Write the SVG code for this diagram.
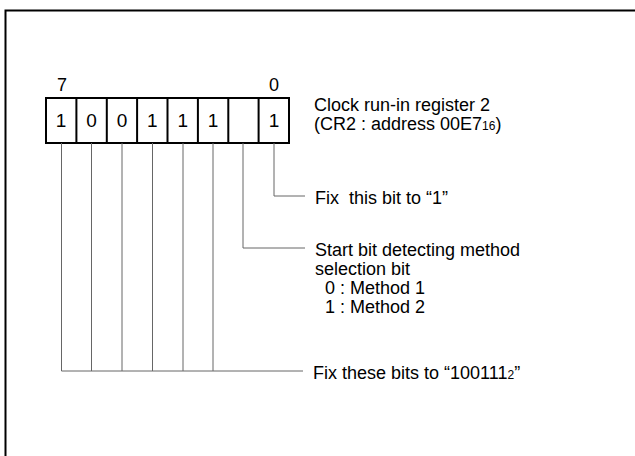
<svg xmlns="http://www.w3.org/2000/svg" width="635" height="456" viewBox="0 0 635 456">
<style>
text{font-family:"Liberation Sans",Arial,sans-serif;font-size:18px;fill:#000}
.dig{font-size:19px;text-anchor:middle}
.cell{fill:#fff;stroke:#000;stroke-width:2}
.ln{fill:none;stroke:#666;stroke-width:1}
.mid{text-anchor:middle}
</style>
<rect width="635" height="456" fill="#fff"/>
<path d="M5.5,460 V10.5 H640" fill="none" stroke="#000" stroke-width="2"/>
<g id="register">
<rect class="cell" x="46" y="98" width="243" height="45"/>
<path d="M76.4,98V143M106.8,98V143M137.1,98V143M167.5,98V143M197.9,98V143M228.3,98V143M258.6,98V143" stroke="#000" stroke-width="2"/>
<text class="dig" x="61" y="127">1</text>
<text class="dig" x="91.5" y="127">0</text>
<text class="dig" x="122" y="127">0</text>
<text class="dig" x="152.3" y="127">1</text>
<text class="dig" x="182.7" y="127">1</text>
<text class="dig" x="213" y="127">1</text>
<text class="dig" x="274" y="127">1</text>
<text class="mid" x="62" y="91">7</text>
<text class="mid" x="274" y="91">0</text>
</g>
<g id="title">
<text x="314" y="111">Clock run-in register 2</text>
<text x="314" y="130">(CR2 : address 00E7<tspan font-size="12">16</tspan>)</text>
</g>
<g id="connectors">
<path class="ln" d="M274,143V196H305"/>
<path class="ln" d="M243,143V248H305"/>
<path class="ln" d="M61.5,143V371H303M91.5,143V371M122,143V371M152.5,143V371M183,143V371M213,143V371"/>
</g>
<g id="note-bit0"><text x="315" y="204" xml:space="preserve">Fix  this bit to “1”</text></g>
<g id="note-bit1">
<text x="315" y="256">Start bit detecting method</text>
<text x="315" y="275">selection bit</text>
<text x="325" y="294">0 : Method 1</text>
<text x="325" y="313">1 : Method 2</text>
</g>
<g id="note-bits"><text x="313" y="379">Fix these bits to “100111<tspan font-size="12">2</tspan>”</text></g>
</svg>
